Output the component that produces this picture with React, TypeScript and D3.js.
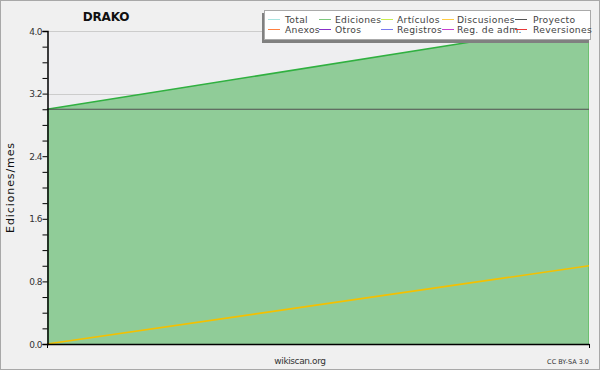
import React, { useEffect, useRef } from 'react';
import * as d3 from 'd3';

// months shown on the chart (no labels drawn on the x axis)
const months = ['2021-05', '2021-06'];
const ediciones = [3.0, 4.1];
const discusiones = [0.0, 1.0];
const proyecto = [3.0, 3.0];
const yTicks = [0, 0.8, 1.6, 2.4, 3.2, 4.0];

const legendRows = [
  [
    { name: 'Total', color: '#a8e4e0' },
    { name: 'Ediciones', color: '#7dc87d' },
    { name: 'Artículos', color: '#c8ec50' },
    { name: 'Discusiones', color: '#ffcc44' },
    { name: 'Proyecto', color: '#555555' },
  ],
  [
    { name: 'Anexos', color: '#ff8040' },
    { name: 'Otros', color: '#8830c8' },
    { name: 'Registros', color: '#7878f0' },
    { name: 'Reg. de adm.', color: '#c840d0' },
    { name: 'Reversiones', color: '#e83838' },
  ],
];

const W = 600;
const H = 370;

function App() {
  const ref = useRef<SVGSVGElement>(null);

  useEffect(() => {
    const svg = d3.select(ref.current);
    svg.selectAll('*').remove();
    const font = 'DejaVu Sans, sans-serif';

    const left = 47, right = 589, top = 31, bottom = 344;
    const x = d3.scalePoint<string>().domain(months).range([left, right]);
    const y = d3.scaleLinear().domain([0, 4]).range([bottom, top]);

    // background + border
    svg.append('rect').attr('x', 0.5).attr('y', 0.5).attr('width', W - 1).attr('height', H - 1)
      .attr('fill', '#f0f0f0').attr('stroke', '#a8a8a8');
    svg.append('rect').attr('x', left).attr('y', top).attr('width', right - left).attr('height', bottom - top)
      .attr('fill', '#eeeef0');

    // grid
    svg.append('g').selectAll('line').data(yTicks).enter().append('line')
      .attr('x1', left).attr('x2', right)
      .attr('y1', d => Math.round(y(d)) + 0.5).attr('y2', d => Math.round(y(d)) + 0.5)
      .attr('stroke', '#cccccc');

    // ediciones area
    const area = d3.area<number>()
      .x((_, i) => x(months[i]) as number)
      .y0(y(0))
      .y1(d => y(d));
    svg.append('path').datum(ediciones).attr('d', area).attr('fill', '#90cc98');
    svg.append('line').attr('x1', right - 0.5).attr('x2', right - 0.5)
      .attr('y1', y(ediciones[1])).attr('y2', bottom).attr('stroke', '#6cc070');

    const line = d3.line<number>()
      .x((_, i) => x(months[i]) as number)
      .y(d => y(d));
    svg.append('path').datum(ediciones).attr('d', line).attr('fill', 'none')
      .attr('stroke', '#30b040').attr('stroke-width', 1.6);
    svg.append('path').datum(proyecto).attr('d', line).attr('fill', 'none')
      .attr('stroke', '#505050').attr('stroke-width', 1);
    svg.append('path').datum(discusiones).attr('d', line).attr('fill', 'none')
      .attr('stroke', '#f4c000').attr('stroke-width', 1.6);

    // y axis
    const yAxis = svg.append('g').attr('transform', `translate(${left + 0.5},0)`)
      .call(d3.axisLeft(y).tickValues(d3.range(0, 4.01, 0.2)).tickSize(5).tickFormat(() => ''));
    yAxis.select('.domain').attr('stroke', '#000').attr('stroke-width', 1.5);
    yAxis.selectAll('.tick line').attr('stroke', '#000');
    svg.append('g').selectAll('text').data(yTicks).enter().append('text')
      .attr('x', left - 5).attr('y', d => y(d) + 3.5).attr('text-anchor', 'end')
      .attr('font-family', font).attr('font-size', 9).attr('fill', '#333')
      .attr('letter-spacing', -0.5)
      .text(d => d.toFixed(1));

    // x axis
    svg.append('line').attr('x1', left).attr('x2', right + 0.5).attr('y1', bottom + 0.5).attr('y2', bottom + 0.5)
      .attr('stroke', '#000').attr('stroke-width', 1.5);
    svg.append('g').selectAll('line').data(months).enter().append('line')
      .attr('x1', d => (x(d) as number) + 0.5).attr('x2', d => (x(d) as number) + 0.5)
      .attr('y1', bottom).attr('y2', bottom + 4).attr('stroke', '#000');

    // title & labels
    svg.append('text').attr('x', 106).attr('y', 21).attr('text-anchor', 'middle')
      .attr('font-family', font).attr('font-weight', 'bold').attr('font-size', 12)
      .attr('letter-spacing', -0.2).attr('fill', '#111')
      .text('DRAKO');
    svg.append('text').attr('transform', `translate(14,${(top + bottom) / 2}) rotate(-90)`)
      .attr('text-anchor', 'middle').attr('font-family', font).attr('font-size', 11).attr('fill', '#111')
      .attr('letter-spacing', 0.9)
      .text('Ediciones/mes');
    svg.append('text').attr('x', 300).attr('y', 364).attr('text-anchor', 'middle')
      .attr('font-family', font).attr('font-size', 9).attr('fill', '#333').attr('letter-spacing', -0.4)
      .text('wikiscan.org');
    svg.append('text').attr('x', 589).attr('y', 364).attr('text-anchor', 'end')
      .attr('font-family', font).attr('font-size', 6.5).attr('fill', '#333')
      .text('CC BY-SA 3.0');

    // legend
    const lg = svg.append('g');
    lg.append('rect').attr('x', 262).attr('y', 13).attr('width', 327).attr('height', 30).attr('fill', '#808080');
    lg.append('rect').attr('x', 264.5).attr('y', 10.5).attr('width', 326).attr('height', 29)
      .attr('fill', '#fff').attr('stroke', '#aaaaaa');
    const colX = [268, 319, 381, 442, 515];
    const textX = [285, 335, 397, 457, 533];
    legendRows.forEach((row, r) => {
      const cy = 19 + r * 10;
      row.forEach((item, c) => {
        lg.append('line').attr('x1', colX[c]).attr('x2', colX[c] + 12)
          .attr('y1', cy + 0.5).attr('y2', cy + 0.5).attr('stroke', item.color);
        lg.append('text').attr('x', textX[c]).attr('y', cy + 3.5)
          .attr('font-family', font).attr('font-size', 9.2).attr('fill', '#444')
          .attr('letter-spacing', 0.3)
          .text(item.name);
      });
    });
  }, []);

  return <svg ref={ref} width={W} height={H} style={{ position: 'absolute', left: 0, top: 0 }} />;
}

export default App;
